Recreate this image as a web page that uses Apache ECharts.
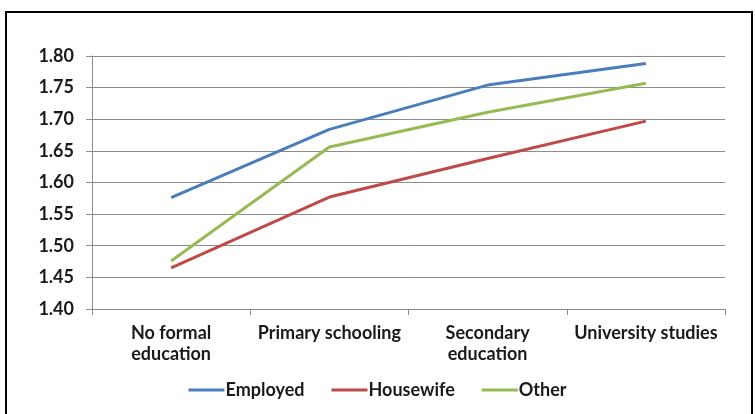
<!DOCTYPE html>
<html>
<head>
<meta charset="utf-8">
<script src="https://cdn.jsdelivr.net/npm/echarts@6/dist/echarts.min.js"></script>
<style>
  html, body { margin: 0; padding: 0; background: #fff; }
  #main { width: 755px; height: 414px; }
</style>
</head>
<body>
<div id="main"></div>
<script>
var categories = ["No formal\neducation", "Primary schooling", "Secondary\neducation", "University studies"];
var employed = [1.576, 1.684, 1.754, 1.788];
var housewife = [1.465, 1.577, 1.638, 1.697];
var other = [1.476, 1.656, 1.711, 1.757];

var font = "Lato";
var textColor = "#1a1a1a";
var gridColor = "#8c8c8c";

var myChart = echarts.init(document.getElementById("main"));
myChart.setOption({
  animation: false,
  textStyle: { fontFamily: font },
  graphic: [{
    type: "rect",
    shape: { x: 6, y: 12, width: 746, height: 430 },
    style: { fill: "none", stroke: "#000", lineWidth: 2 },
    z: -1
  }],
  grid: { left: 92, right: 30, top: 56, bottom: 105 },
  legend: {
    bottom: 10,
    left: "center",
    icon: "rect",
    itemWidth: 36,
    itemHeight: 3,
    itemGap: 27,
    textStyle: { fontFamily: font, fontSize: 18, fontWeight: "bold", color: textColor, padding: [0, 0, 0, -4] },
    data: ["Employed", "Housewife", "Other"]
  },
  xAxis: {
    type: "category",
    data: categories,
    boundaryGap: true,
    axisLine: { lineStyle: { color: gridColor, width: 1 } },
    axisTick: { show: true, length: 6, interval: 0, lineStyle: { color: gridColor } },
    axisLabel: {
      interval: 0,
      margin: 14,
      fontFamily: font,
      fontSize: 18,
      fontWeight: "bold",
      color: textColor,
      lineHeight: 21
    }
  },
  yAxis: {
    type: "value",
    min: 1.4,
    max: 1.8,
    interval: 0.05,
    axisLine: { show: true, lineStyle: { color: gridColor, width: 1 } },
    axisTick: { show: true, length: 6, lineStyle: { color: gridColor } },
    splitLine: { lineStyle: { color: gridColor, width: 1 } },
    axisLabel: {
      margin: 18,
      fontFamily: font,
      fontSize: 18,
      fontWeight: "bold",
      color: textColor,
      formatter: function (v) { return v.toFixed(2); }
    }
  },
  series: [
    { name: "Employed", type: "line", data: employed, symbol: "none",
      lineStyle: { color: "#4a7ebb", width: 3 }, itemStyle: { color: "#4a7ebb" } },
    { name: "Housewife", type: "line", data: housewife, symbol: "none",
      lineStyle: { color: "#be4b48", width: 3 }, itemStyle: { color: "#be4b48" } },
    { name: "Other", type: "line", data: other, symbol: "none",
      lineStyle: { color: "#98b954", width: 3 }, itemStyle: { color: "#98b954" } }
  ]
});
</script>
</body>
</html>
